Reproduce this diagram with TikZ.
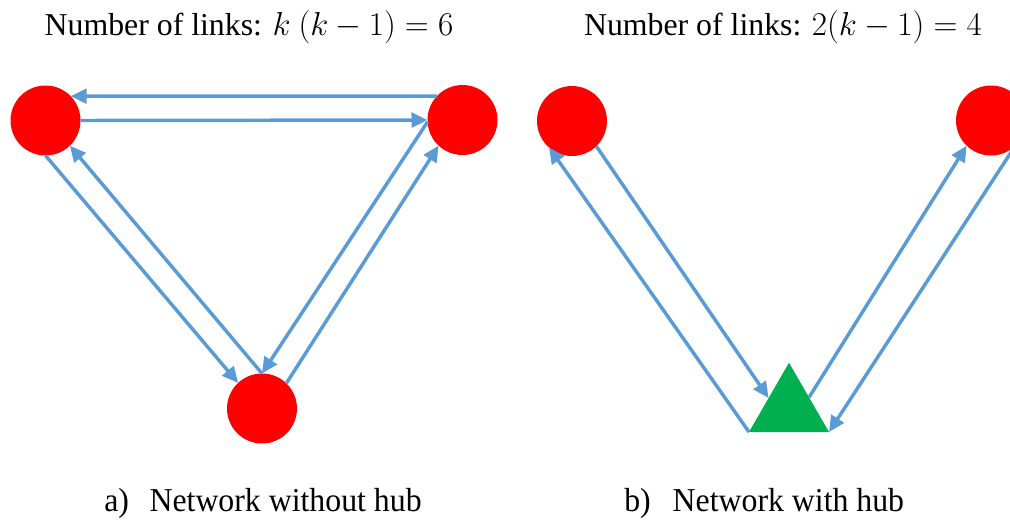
\documentclass[tikz,border=0pt]{standalone}
\usepackage{fontspec}
\setmainfont{Liberation Serif}
\usetikzlibrary{arrows.meta,shapes.geometric}
\definecolor{linkblue}{HTML}{5B9BD5}
\definecolor{nodered}{HTML}{FF0000}
\definecolor{hubgreen}{HTML}{00B050}

\begin{document}
\begin{tikzpicture}[x=0.75pt,y=-0.75pt,
  site/.style={circle,fill=nodered,draw=none,minimum size=52.5pt,inner sep=0pt,outer sep=0pt},
  hub/.style={regular polygon,regular polygon sides=3,fill=hubgreen,draw=none,
    minimum size=69.3pt,inner sep=0pt,outer sep=0pt},
  link/.style={draw=linkblue,line width=2.6pt,-{Triangle[length=12pt,width=11pt]}},
  heading/.style={font=\fontsize{23.85pt}{28pt}\selectfont,inner sep=0pt,anchor=base},
  caption/.style={font=\fontsize{23.85pt}{28pt}\selectfont,inner sep=0pt,anchor=base west}
]
\clip (0,0) rectangle (1010,519);

% headings
\node[heading] (h1) at (249,35) {Number of links: $k\ (k-1)=6$};
\node[heading] (h2) at (783,35) {Number of links: $2(k-1)=4$};

% a) full mesh of three sites
\node[site] (A) at (45.5,120.5) {};
\node[site] (B) at (462.5,120) {};
\node[site] (C) at (262,408.5) {};

\draw[link] (B.137) -- (A.44);
\draw[link] (A.0) -- (B.180);
\draw[link] (A.270) -- (C.133);
\draw[link] (C.90) -- (A.-46);
\draw[link] (B.183) -- (C.90);
\draw[link] (C.46) -- (B.227);

% b) two sites joined through a hub
\node[site] (D) at (572,121) {};
\node[site] (E) at (991,120.5) {};
\node[hub] (T) at (789,408.9) {};

\draw[link] (D.-46) -- (T.152);
\draw[link] (T.corner 2) -- (D.229);
\draw[link] (T.30) -- (E.226);
\draw[link] (E.-46) -- (T.corner 3);

% captions
\node[caption] (c1) at (104,511) {\scalebox{1}[1.05]{a)\hspace{15.5pt}Network without hub}};
\node[caption] (c2) at (624,511) {\scalebox{1}[1.05]{b)\hspace{16.5pt}Network with hub}};
\end{tikzpicture}
\end{document}
